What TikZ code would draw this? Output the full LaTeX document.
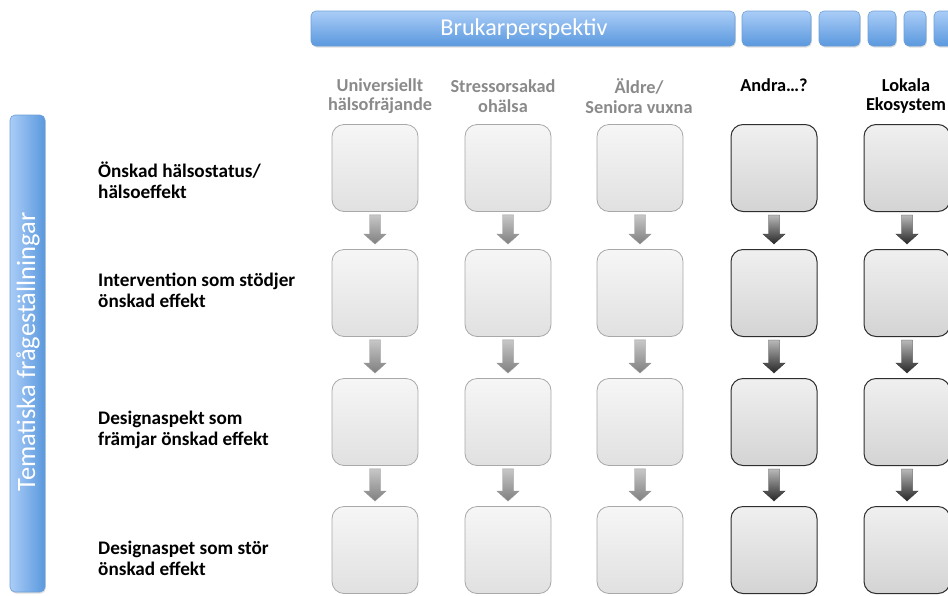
\documentclass[tikz,border=0pt]{standalone}
\usepackage{fontspec}
\setmainfont{Carlito}
\usetikzlibrary{shadows,calc}
\definecolor{hdrgray}{HTML}{8A8A8A}
\definecolor{bluetop}{HTML}{AACDF7}
\definecolor{bluebot}{HTML}{5A98DE}
\definecolor{blueline}{HTML}{6C9FD8}
\definecolor{lboxline}{HTML}{A8A8A8}
\definecolor{dboxline}{HTML}{2E2E2E}
\tikzset{
  bluebar/.style={draw=blueline, line width=0.6pt, rounded corners=5pt, top color=bluetop, bottom color=bluebot,
    drop shadow={opacity=0.25, shadow xshift=0.8pt, shadow yshift=-1.5pt}},
  vbluebar/.style={draw=blueline, line width=0.6pt, rounded corners=5pt, left color=bluetop, right color=bluebot,
    drop shadow={opacity=0.25, shadow xshift=0.8pt, shadow yshift=-1.5pt}},
  lbox/.style={draw=lboxline, line width=0.8pt, rounded corners=12pt, minimum width=86pt, minimum height=87pt,
    top color=gray!7, bottom color=gray!24, inner sep=0pt},
  dbox/.style={lbox, draw=dboxline, line width=1pt, top color=gray!12, bottom color=gray!34},
  larrow/.style={draw=black!40, line width=0.4pt, top color=black!22, bottom color=black!50},
  darrow/.style={draw=black!80, line width=0.4pt, top color=gray!55, bottom color=black!85},
  rowlabel/.style={font=\fontsize{19.2}{21}\selectfont\bfseries, align=left, anchor=west, inner sep=0pt},
  colhdr/.style={font=\fontsize{18.3}{19.5}\selectfont\bfseries, align=center, inner sep=0pt, text=hdrgray},
  dcolhdr/.style={colhdr, text=black}
}
\newcommand\dnarrow[3]{%
  \path[#3] ($(#1.south)+(-5.5,3)$) -- ($(#1.south)+(5.5,3)$) -- ($(#2.north)+(5.5,-15)$)
    -- ($(#2.north)+(11,-15)$) -- ($(#2.north)+(0,-5)$) -- ($(#2.north)+(-11,-15)$)
    -- ($(#2.north)+(-5.5,-15)$) -- cycle;}
\begin{document}
\begin{tikzpicture}[x=1pt, y=-1pt]
\path[use as bounding box] (0,0) rectangle (948,595);
\clip (0,0) rectangle (948,595);
% top bars
\path[bluebar] (311,11) rectangle (735,46);
\node[text=white, font=\fontsize{24.2}{28}\selectfont, inner sep=0pt] (brukar) at (524,29) {Brukarperspektiv};
\path[bluebar] (742,11) rectangle (811,46);
\path[bluebar] (819,11) rectangle (860,46);
\path[bluebar] (868,11) rectangle (896,46);
\path[bluebar] (904,11) rectangle (926,46);
\path[bluebar] (934,11) rectangle (960,46);
% vertical bar
\path[vbluebar] (10,115) rectangle (45,592);
\node[text=white, font=\fontsize{26.5}{28}\selectfont, inner sep=0pt, rotate=90] (tema) at (28,352) {Tematiska frågeställningar};
% column headers
\node[colhdr] (h1) at (380,96) {Universiellt\\hälsofräjande};
\node[colhdr] (h2) at (503,96) {Stressorsakad\\ohälsa};
\node[colhdr] (h3) at (639,96) {Äldre/\\Seniora vuxna};
\node[dcolhdr, anchor=base] (h4) at (774,91) {Andra…?};
\node[dcolhdr] (h5) at (906,96) {Lokala\\Ekosystem};
% row labels
\node[rowlabel] (r1) at (98,180) {Önskad hälsostatus/\\hälsoeffekt};
\node[rowlabel] (r2) at (98,290) {Intervention som stödjer\\önskad effekt};
\node[rowlabel] (r3) at (98,430) {Designaspekt som\\främjar önskad effekt};
\node[rowlabel] (r4) at (98,558) {Designaspet som stör\\önskad effekt};
% boxes
\foreach \c/\x in {1/375,2/508,3/640}{
  \foreach \r/\y in {1/168,2/293,3/422,4/550}{
    \node[lbox] (b\r\c) at (\x,\y) {};
  }
}
\foreach \c/\x in {4/774,5/907}{
  \foreach \r/\y in {1/168,2/293,3/422,4/550}{
    \node[dbox] (b\r\c) at (\x,\y) {};
  }
}
% arrows
\foreach \c in {1,2,3}{
  \dnarrow{b1\c}{b2\c}{larrow}
  \dnarrow{b2\c}{b3\c}{larrow}
  \dnarrow{b3\c}{b4\c}{larrow}
}
\foreach \c in {4,5}{
  \dnarrow{b1\c}{b2\c}{darrow}
  \dnarrow{b2\c}{b3\c}{darrow}
  \dnarrow{b3\c}{b4\c}{darrow}
}
\end{tikzpicture}
\end{document}
